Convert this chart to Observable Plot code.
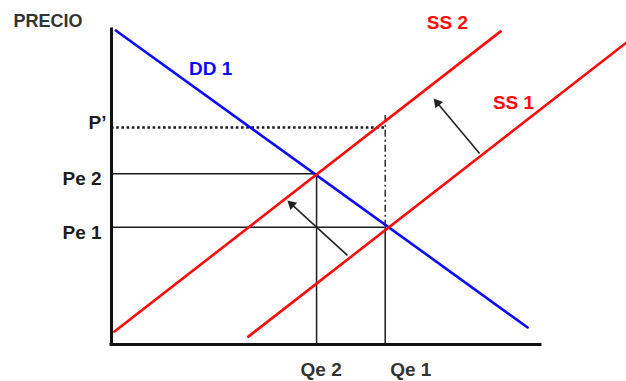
<!DOCTYPE html>
<html>
<head>
<meta charset="utf-8">
<script src="https://cdn.jsdelivr.net/npm/d3@7"></script>
<script src="https://cdn.jsdelivr.net/npm/@observablehq/plot@0.6"></script>
<style>
  body { margin: 0; background: #fff; }
</style>
</head>
<body>
<div id="chart"></div>
<script>
// Demand curve DD 1 and two supply curves (SS 1 shifts left to SS 2).
// Units are abstract: quantity and price on a 0–100 scale.
const ddQ = [1, 97];
const ddP = [99.7, 5.4];
const ss2Q = [0.7, 90.7];
const ss2P = [4.1, 99.4];
const ss1Q = [31.9, 120];
const ss1P = [2.5, 95.8];

// Equilibria: (Qe 2, Pe 2) with SS 2, (Qe 1, Pe 1) with SS 1
const eqNames = ["2", "1"];
const eqQ = [47.8, 63.8];
const eqP = [54.2, 37.2];

// Price P' on SS 2 at the old quantity Qe 1
const pPrime = 68.9;
const pPrimeGuideTop = 72.7;

// Curve labels
const curveNames = ["DD 1", "SS 2", "SS 1"];
const curveLabelQ = [23.1, 78.3, 93.7];
const curveLabelP = [87.6, 102.2, 76.8];

// Shift arrows (from SS 1 toward SS 2)
const shiftFromQ = [85.8, 55.0];
const shiftFromP = [60.6, 28.3];
const shiftToQ = [75.1, 41.0];
const shiftToP = [78.1, 45.7];

const axisLabel = "PRECIO";

const pts = (qs, ps) => qs.map((q, i) => ({q, p: ps[i]}));
const eq = eqNames.map((n, i) => ({n, q: eqQ[i], p: eqP[i]}));
const curves = curveNames.map((name, i) => ({name, q: curveLabelQ[i], p: curveLabelP[i]}));

// Arrowheads as filled triangles pointing along each arrow in screen space
const W = 626, H = 381, ML = 111, MR = 86, MT = 29, MB = 37;
const sx = Plot.scale({x: {domain: [0, 100], range: [ML, W - MR]}});
const sy = Plot.scale({y: {domain: [0, 100], range: [H - MB, MT]}});
const headR = 3.7;
const tipOffset = 2 * Math.sqrt((Math.PI * headR * headR) / (Math.sqrt(3) * 3));
const shifts = shiftFromQ.map((q, i) => {
  const x1 = sx.apply(q), y1 = sy.apply(shiftFromP[i]);
  const x2 = sx.apply(shiftToQ[i]), y2 = sy.apply(shiftToP[i]);
  const len = Math.hypot(x2 - x1, y2 - y1);
  const ux = (x2 - x1) / len, uy = (y2 - y1) / len;
  return {
    q1: q, p1: shiftFromP[i],
    hq: sx.invert(x2 - ux * tipOffset), hp: sy.invert(y2 - uy * tipOffset),
    angle: Math.atan2(ux, -uy) * 180 / Math.PI
  };
});

const font = "'Liberation Sans', Arial, sans-serif";
const ink = "#1c1c1c";
const label = {fontSize: 19, fontWeight: "bold"};

const chart = Plot.plot({
  width: W,
  height: H,
  marginLeft: ML,
  marginRight: MR,
  marginTop: MT,
  marginBottom: MB,
  x: {domain: [0, 100], axis: null},
  y: {domain: [0, 100], axis: null},
  style: {fontFamily: font, background: "#fff", overflow: "visible"},
  marks: [
    // equilibrium guides
    Plot.ruleY(eq, {y: "p", x1: () => 0, x2: "q", stroke: ink, strokeWidth: 1.5}),
    Plot.ruleX(eq, {x: "q", y1: () => 0, y2: "p", stroke: ink, strokeWidth: 1.5}),
    Plot.ruleY([{p: pPrime, q: eqQ[1]}], {y: "p", x1: () => 0, x2: "q", stroke: ink, strokeWidth: 2.6, strokeDasharray: "2.6,2.6"}),
    Plot.ruleX([{q: eqQ[1], p1: eqP[1], p2: pPrimeGuideTop}], {x: "q", y1: "p1", y2: "p2", stroke: ink, strokeWidth: 1.4, strokeDasharray: "7,3,2,3"}),
    // curves
    Plot.line(pts(ddQ, ddP), {x: "q", y: "p", stroke: "#0a0aff", strokeWidth: 2.6}),
    Plot.line(pts(ss2Q, ss2P), {x: "q", y: "p", stroke: "#ff0a0a", strokeWidth: 2.6}),
    Plot.line(pts(ss1Q, ss1P), {x: "q", y: "p", stroke: "#ff0a0a", strokeWidth: 2.6}),
    // shift arrows
    Plot.link(shifts, {x1: "q1", y1: "p1", x2: "hq", y2: "hp", stroke: "#222", strokeWidth: 1.6}),
    Plot.dot(shifts, {x: "hq", y: "hp", symbol: "triangle", r: headR, rotate: "angle", fill: "#222", stroke: "none"}),
    // axes
    Plot.ruleX([0], {y1: 0, y2: 100, stroke: "#111", strokeWidth: 3, strokeLinecap: "square"}),
    Plot.ruleY([0], {x1: 0, x2: 100, stroke: "#111", strokeWidth: 3, strokeLinecap: "square"}),
    // curve labels
    Plot.text(curves.filter(d => d.name.startsWith("DD")), {x: "q", y: "p", text: "name", fill: "#0a0aff", ...label}),
    Plot.text(curves.filter(d => d.name.startsWith("SS")), {x: "q", y: "p", text: "name", fill: "#ff0a0a", ...label}),
    // price labels
    Plot.text(eq, {x: () => 0, y: "p", text: d => `Pe ${d.n}`, textAnchor: "start", dx: -49, dy: -2, lineAnchor: "top", fill: ink, ...label}),
    Plot.text([pPrime], {x: () => 0, y: d => d, text: () => "P’", textAnchor: "end", dx: -5, dy: 2, lineAnchor: "bottom", fill: ink, ...label}),
    // quantity labels
    Plot.text([eq[0]], {x: "q", y: () => 0, text: d => `Qe ${d.n}`, textAnchor: "start", dx: -16, dy: 18, lineAnchor: "top", fill: "#333", ...label}),
    Plot.text([eq[1]], {x: "q", y: () => 0, text: d => `Qe ${d.n}`, textAnchor: "start", dx: 5, dy: 18, lineAnchor: "top", fill: "#333", ...label}),
    // vertical axis title
    Plot.text([axisLabel], {frameAnchor: "top-left", text: d => d, textAnchor: "start", dx: -98, dy: -3, lineAnchor: "bottom", fontSize: 18, fontWeight: "bold", fill: "#333"})
  ]
});

document.getElementById("chart").appendChild(chart);
</script>
</body>
</html>
